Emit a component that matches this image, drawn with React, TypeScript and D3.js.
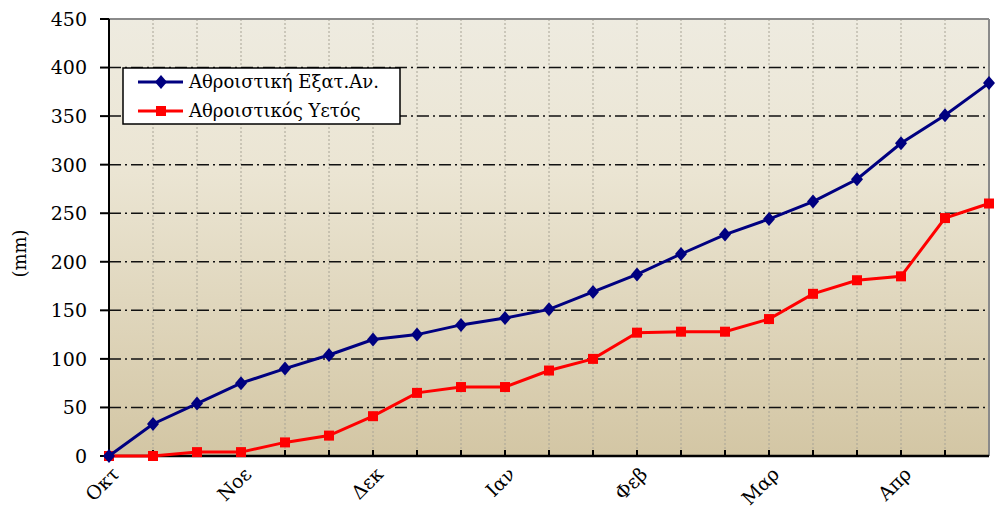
import React from 'react';
import * as d3 from 'd3';

const monthLabels = ['Οκτ', 'Νοε', 'Δεκ', 'Ιαν', 'Φεβ', 'Μαρ', 'Απρ'];
const monthIndex = [0, 3, 6, 9, 12, 15, 18];
const yTicks = [0, 50, 100, 150, 200, 250, 300, 350, 400, 450];

const evapCum = [0, 33, 54, 75, 90, 104, 120, 125, 135, 142, 151, 169, 187, 208, 228, 244, 262, 285, 322, 351, 384];
const rainCum = [0, 0, 4, 4, 14, 21, 41, 65, 71, 71, 88, 100, 127, 128, 128, 141, 167, 181, 185, 245, 260];

const seriesNames = ['Αθροιστική Εξατ.Αν.', 'Αθροιστικός Υετός'];

const W = 1001;
const H = 510;
const m = { left: 109, right: 12, top: 19, bottom: 54 };
const font = '"DejaVu Serif", serif';

export default function App() {
  const x = d3.scaleLinear().domain([0, evapCum.length - 1]).range([m.left, W - m.right]);
  const y = d3.scaleLinear().domain([0, 450]).range([H - m.bottom, m.top]);
  const line = d3.line<number>().x((_, i) => x(i)).y(d => y(d));
  const idx = d3.range(evapCum.length);

  return (
    <svg width={W} height={H} style={{ position: 'absolute', left: 0, top: 0, background: '#fff' }}>
      <defs>
        <linearGradient id="bg" x1="0" y1="0" x2="0" y2="1">
          <stop offset="0" stopColor="#eeebe0" />
          <stop offset="0.35" stopColor="#ebe5d3" />
          <stop offset="1" stopColor="#d3c6a4" />
        </linearGradient>
      </defs>
      <rect x={m.left} y={m.top} width={W - m.right - m.left} height={H - m.bottom - m.top} fill="url(#bg)" />

      {/* vertical grid */}
      {idx.slice(1, -1).map(i => (
        <line key={'v' + i} x1={x(i)} x2={x(i)} y1={y(450)} y2={y(0)} stroke="#a8a496" strokeWidth={1} strokeDasharray="2,2" />
      ))}
      {/* horizontal grid */}
      {yTicks.slice(1, -1).map(t => (
        <line key={'h' + t} x1={x(0)} x2={x(20)} y1={y(t)} y2={y(t)} stroke="#111" strokeWidth={1.5} strokeDasharray="12,4,2,4" />
      ))}
      {/* plot border top/right */}
      <line x1={x(0)} x2={x(20)} y1={y(450)} y2={y(450)} stroke="#8a8a8a" strokeWidth={2} />
      <line x1={x(20)} x2={x(20)} y1={y(450)} y2={y(0)} stroke="#8a8a8a" strokeWidth={2} />

      {/* x ticks (inward) */}
      {idx.slice(1, -1).map(i => (
        <line key={'xt' + i} x1={x(i)} x2={x(i)} y1={y(0)} y2={y(0) - 6} stroke="#000" strokeWidth={2} />
      ))}
      {/* y ticks */}
      {yTicks.map(t => (
        <g key={'yt' + t}>
          <line x1={x(0) - 9} x2={x(0)} y1={y(t)} y2={y(t)} stroke="#000" strokeWidth={2} />
          <text x={x(0) - 22} y={y(t)} dy="0.36em" textAnchor="end" fontFamily={font} fontSize={19} fill="#000">{t}</text>
        </g>
      ))}
      {/* axes */}
      <line x1={x(0)} x2={x(0)} y1={y(450)} y2={y(0)} stroke="#000" strokeWidth={2} />
      <line x1={x(0)} x2={x(20)} y1={y(0)} y2={y(0)} stroke="#000" strokeWidth={2.5} />

      {/* x labels */}
      {monthLabels.map((lbl, k) => (
        <text key={lbl} transform={`translate(${x(monthIndex[k]) + 2},${y(0) + 10}) rotate(-45)`} textAnchor="end" dy="0.7em"
          fontFamily={font} fontSize={19} fill="#000">{lbl}</text>
      ))}

      <text transform={`translate(26,${(y(0) + y(450)) / 2 + 16}) rotate(-90)`} textAnchor="middle" fontFamily={font} fontSize={18} fill="#000">(mm)</text>

      {/* series */}
      <path d={line(rainCum) || ''} fill="none" stroke="#ff0000" strokeWidth={3} />
      {rainCum.map((v, i) => (
        <rect key={'r' + i} x={x(i) - 5} y={y(v) - 5} width={10} height={10} fill="#ff0000" />
      ))}
      <path d={line(evapCum) || ''} fill="none" stroke="#000080" strokeWidth={3} />
      {evapCum.map((v, i) => (
        <path key={'b' + i} d="M0,-7L6,0L0,7L-6,0Z" transform={`translate(${x(i)},${y(v)})`} fill="#000080" />
      ))}

      {/* legend */}
      <g>
        <rect x={123} y={68} width={277} height={56} fill="#fff" stroke="#000" strokeWidth={1.5} />
        <line x1={138} x2={183} y1={82} y2={82} stroke="#000080" strokeWidth={3} />
        <path d="M0,-7L6,0L0,7L-6,0Z" transform="translate(161,82)" fill="#000080" />
        <text x={189} y={82} dy="0.36em" fontFamily={font} fontSize={18} fill="#000">{seriesNames[0]}</text>
        <line x1={138} x2={183} y1={111} y2={111} stroke="#ff0000" strokeWidth={3} />
        <rect x={156} y={106} width={10} height={10} fill="#ff0000" />
        <text x={189} y={111} dy="0.36em" fontFamily={font} fontSize={18} fill="#000">{seriesNames[1]}</text>
      </g>
    </svg>
  );
}
